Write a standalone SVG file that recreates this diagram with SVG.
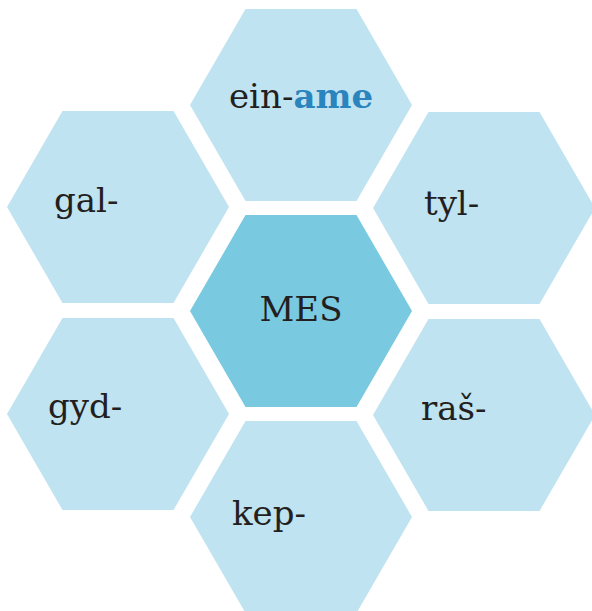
<svg xmlns="http://www.w3.org/2000/svg" width="592" height="611" viewBox="0 0 592 611">
<style>
.hex{fill:#bfe3f0}
.core{fill:#79c9e1}
.t{font-family:"DejaVu Serif","Liberation Serif",serif;font-size:34px;fill:#231f20}
.b{font-weight:bold;fill:#2a84bd}
</style>
<defs>
<polygon id="h" points="-111,0 -55.5,-96 55.5,-96 111,0 55.5,96 -55.5,96"/>
</defs>
<g id="connectors"></g>
<g id="node-ein"><use href="#h" class="hex" x="301" y="105"/><text class="t" x="301" y="108" text-anchor="middle">ein-<tspan class="b">ame</tspan></text></g>
<g id="node-gal"><use href="#h" class="hex" x="118" y="207"/><text class="t" x="54" y="212">gal-</text></g>
<g id="node-tyl"><use href="#h" class="hex" x="484" y="208"/><text class="t" x="424" y="215">tyl-</text></g>
<g id="node-mes"><use href="#h" class="core" x="301" y="311"/><text class="t" x="301" y="321" text-anchor="middle">MES</text></g>
<g id="node-gyd"><use href="#h" class="hex" x="118" y="414"/><text class="t" x="48" y="418">gyd-</text></g>
<g id="node-ras"><use href="#h" class="hex" x="484" y="415"/><text class="t" x="421" y="420">raš-</text></g>
<g id="node-kep"><use href="#h" class="hex" x="301" y="517"/><text class="t" x="232" y="525">kep-</text></g>
</svg>
